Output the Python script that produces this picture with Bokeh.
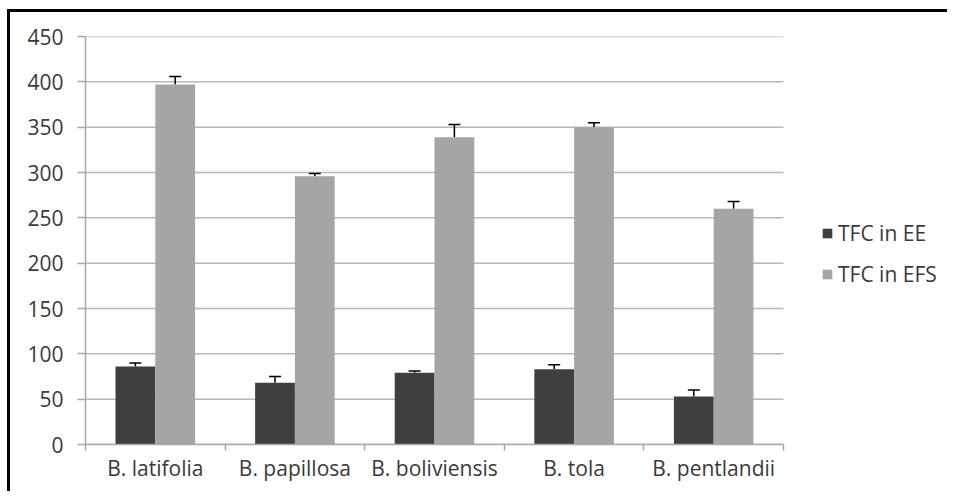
from bokeh.plotting import figure
from bokeh.models import (ColumnDataSource, Range1d, LinearAxis, FixedTicker, Grid, Whisker,
                          TeeHead, Legend, LegendItem)
from bokeh.transform import dodge
from bokeh.embed import file_html
from bokeh.resources import INLINE

species = ["B. latifolia", "B. papillosa", "B. boliviensis", "B. tola", "B. pentlandii"]
tfc_ee = [86, 68, 79, 83, 53]
tfc_ee_err = [4, 7, 2, 5, 7]
tfc_efs = [397, 296, 339, 350, 260]
tfc_efs_err = [9, 3, 14, 5, 8]
y_ticks = [0, 50, 100, 150, 200, 250, 300, 350, 400, 450]
series_names = ["TFC in EE", "TFC in EFS"]

n = len(species)
centers = [i + 0.5 for i in range(n)]
src = ColumnDataSource(dict(
    x=centers,
    ee=tfc_ee,
    ee_up=[v + e for v, e in zip(tfc_ee, tfc_ee_err)],
    efs=tfc_efs,
    efs_up=[v + e for v, e in zip(tfc_efs, tfc_efs_err)],
))
grid_src = ColumnDataSource(dict(y=y_ticks, x0=[0] * len(y_ticks), x1=[n] * len(y_ticks)))

FONT = "Open Sans"
TEXT = "#3a3a3a"
GRID = "#b8b8b8"
AXIS = "#a8a8a8"

FIG_W = 940
LEFT = 75
PLOT_W = 698          # width of the category area in px
FRAME_W = FIG_W - LEFT
x_end = n * FRAME_W / PLOT_W   # frame extends right to hold the legend

p = figure(width=FIG_W, height=482, x_range=Range1d(0, x_end), y_range=Range1d(0, 450),
           output_backend="svg", toolbar_location=None,
           x_axis_location=None, y_axis_location=None,
           min_border_left=LEFT, min_border_top=24, min_border_right=0, min_border_bottom=50)
p.outline_line_color = None
p.background_fill_color = "white"
p.border_fill_color = "white"
p.styles = {"position": "relative", "left": "10px", "top": "12px",
            "box-shadow": "-3px -3px 0px 0px black"}
p.center = [r for r in p.center if not isinstance(r, Grid)]

# horizontal gridlines, only across the category area
p.segment(x0="x0", x1="x1", y0="y", y1="y", source=grid_src, line_color=GRID, line_width=1.5,
          level="underlay")

W = 0.285
OFF = 0.1425
r1 = p.vbar(x=dodge("x", -OFF), top="ee", width=W, source=src,
            fill_color="#3f3f3f", line_color=None)
r2 = p.vbar(x=dodge("x", OFF), top="efs", width=W, source=src,
            fill_color="#a5a5a5", line_color=None)

for col, up, off in (("ee", "ee_up", -OFF), ("efs", "efs_up", OFF)):
    w = Whisker(source=src, base=dodge("x", off), lower=col, upper=up,
                line_color="black", line_width=1.5, lower_head=None,
                upper_head=TeeHead(size=12, line_color="black", line_width=1.5))
    p.add_layout(w)

# y axis
yaxis = LinearAxis(ticker=FixedTicker(ticks=y_ticks))
yaxis.axis_line_color = AXIS
yaxis.axis_line_width = 1.5
yaxis.major_tick_line_color = AXIS
yaxis.major_tick_line_width = 1.5
yaxis.major_tick_out = 8
yaxis.major_tick_in = 0
yaxis.minor_tick_line_color = None
yaxis.major_label_text_font = FONT
yaxis.major_label_text_font_size = "21px"
yaxis.major_label_text_color = TEXT
yaxis.major_label_standoff = 14
p.add_layout(yaxis, "left")

# x axis: labels at centers, tick marks at category boundaries
xaxis = LinearAxis(ticker=FixedTicker(ticks=centers, minor_ticks=list(range(n + 1))),
                   bounds=(0, n))
xaxis.major_label_overrides = {c: s for c, s in zip(centers, species)}
xaxis.axis_line_color = AXIS
xaxis.axis_line_width = 1.5
xaxis.major_tick_line_color = None
xaxis.major_tick_out = 0
xaxis.major_tick_in = 0
xaxis.minor_tick_line_color = AXIS
xaxis.minor_tick_line_width = 1.5
xaxis.minor_tick_out = 6
xaxis.minor_tick_in = 0
xaxis.major_label_text_font = FONT
xaxis.major_label_text_font_size = "21px"
xaxis.major_label_text_color = TEXT
xaxis.major_label_standoff = 3
p.add_layout(xaxis, "below")

legend = Legend(items=[LegendItem(label=series_names[0], renderers=[r1]),
                       LegendItem(label=series_names[1], renderers=[r2])],
                location=(736, 156), orientation="vertical")
legend.border_line_color = None
legend.background_fill_alpha = 0
legend.padding = 0
legend.margin = 0
legend.spacing = 13
legend.glyph_width = 12
legend.glyph_height = 12
legend.label_standoff = 5
legend.label_text_font = FONT
legend.label_text_font_size = "21px"
legend.label_text_color = TEXT
p.add_layout(legend, "center")

open("out.html", "w").write(file_html(p, INLINE))
